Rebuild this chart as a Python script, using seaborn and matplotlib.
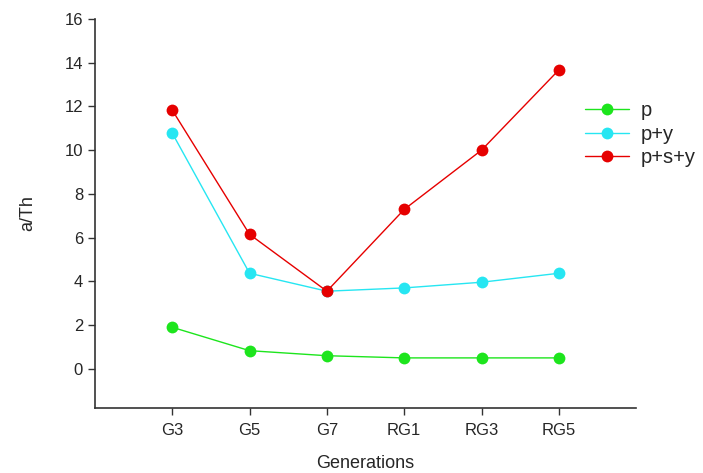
import pandas as pd
import matplotlib
matplotlib.use("Agg")
import matplotlib.pyplot as plt
import seaborn as sns

# valeurs
generations = ["G3", "G5", "G7", "RG1", "RG3", "RG5"]
p = [1.9, 0.83, 0.6, 0.5, 0.5, 0.5]
p_y = [10.78, 4.37, 3.55, 3.70, 3.96, 4.37]
p_s_y = [11.83, 6.15, 3.55, 7.29, 10.0, 13.67]
series_names = ["p", "p+y", "p+s+y"]
colors = ["#1de51d", "#26e6f2", "#e60000"]

df = pd.DataFrame({
    "Generations": generations * 3,
    "a/Th": p + p_y + p_s_y,
    "serie": [s for s in series_names for _ in generations],
})

sns.set_style("ticks")
plt.rcParams["font.family"] = ["Liberation Sans", "DejaVu Sans"]

fig = plt.figure(figsize=(7.03, 4.73), dpi=100)
ax = fig.add_axes([0.135, 0.137, 0.77, 0.823])

sns.lineplot(data=df, x="Generations", y="a/Th", hue="serie", hue_order=series_names,
             palette=colors, marker="o", markersize=8.5, markeredgewidth=0,
             linewidth=1.0, sort=False, ax=ax)

ax.set_xlim(-1, 6)
ax.set_ylim(-1.8, 16)
ax.set_yticks(range(0, 17, 2))
ax.tick_params(axis="both", labelsize=12, length=5, width=1, color="#333333", direction="out")
ax.tick_params(axis="x", pad=6)
for sp in ["top", "right"]:
    ax.spines[sp].set_visible(False)
for sp in ["left", "bottom"]:
    ax.spines[sp].set_linewidth(1.2)
    ax.spines[sp].set_color("#333333")

ax.set_xlabel("Generations", fontsize=13, labelpad=12)
ax.set_ylabel("a/Th", fontsize=13, labelpad=20)

handles, labels = ax.get_legend_handles_labels()
ax.legend(handles, labels, loc="upper left", bbox_to_anchor=(0.818, 0.807),
          bbox_transform=fig.transFigure, frameon=False, fontsize=14.5,
          handlelength=2.2, handletextpad=0.55, labelspacing=0.22, borderpad=0)

plt.savefig("out.png", dpi=100)
plt.close()
